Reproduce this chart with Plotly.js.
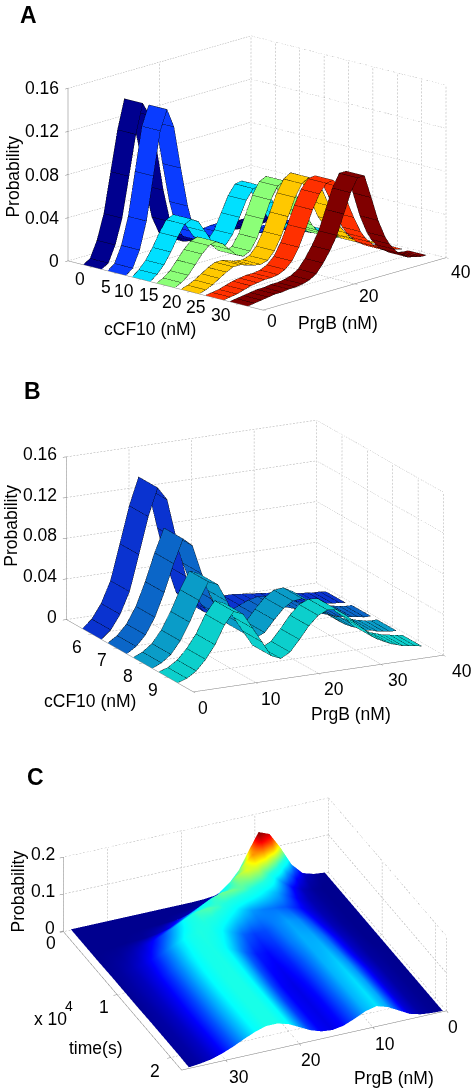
<!DOCTYPE html>
<html><head><meta charset="utf-8">
<script src="https://cdn.plot.ly/plotly-3.0.1.min.js"></script>
<style>html,body{margin:0;padding:0;background:#fff}#g{width:475px;height:1092px}</style>
</head><body><div id="g"></div>
<script>
// Shared PrgB sample rows for panels A and B
const prgbRows=[0,1.5,3,4.5,6,7.5,9,10.5,12,13.5,15,16.5,18,19.5,21,22.5,24,25.5,27,28.5,30,31,32,33,34,35,36,37,38,39];
// Panel A
const aLevels=[0,5,10,15,20,25,30];
const aColors=['#00008f','#0a3cff','#00e0ff','#8cff78','#ffc800','#ff3000','#800000'];
const a0 =[0,.004,.019,.042,.079,.116,.143,.13,.098,.057,.026,.01,.004,.003,.003,.003,.003,.002,.002,.002,.001,.001,.001,.001,0,0,0,0,0,0];
const a5 =[0,.005,.02,.045,.085,.125,.143,.125,.085,.048,.022,.012,.01,.012,.014,.015,.015,.012,.008,.005,.003,.002,.002,.001,.001,0,0,0,0,0];
const a10=[0,.005,.012,.022,.034,.044,.047,.043,.032,.021,.014,.014,.022,.036,.05,.059,.06,.052,.04,.028,.017,.012,.009,.006,.005,.003,.002,.001,0,0];
const a15=[0,.003,.008,.016,.024,.03,.032,.028,.021,.014,.011,.014,.024,.04,.056,.067,.07,.063,.05,.035,.022,.016,.012,.008,.006,.004,.003,.001,0,0];
const a20=[0,.002,.005,.009,.013,.016,.016,.014,.012,.011,.013,.02,.032,.048,.064,.075,.079,.075,.063,.047,.031,.024,.018,.012,.009,.005,.003,.002,.001,0];
const a25=[0,.001,.002,.004,.006,.007,.008,.008,.009,.012,.018,.029,.044,.06,.073,.081,.082,.074,.059,.042,.027,.02,.015,.01,.007,.004,.003,.002,.001,0];
const a30=[0,.001,.002,.003,.004,.004,.005,.005,.006,.008,.012,.02,.03,.042,.06,.078,.09,.09,.068,.045,.028,.02,.014,.009,.006,.003,.002,.001,0,0];
const aSeries=[a0,a5,a10,a15,a20,a25,a30];
const aXTicks=[0,5,10,15,20,25,30];
const aYTicks=[0,20,40];
const aZTicks=[0,.04,.08,.12,.16];
// Panel B
const bLevels=[6,7,8,9];
const bColors=['#0a33d0','#0b66c8','#0a9cc8','#0ccfcc'];
const b6=[0,.008,.022,.043,.078,.114,.141,.128,.088,.05,.022,.012,.009,.01,.011,.012,.012,.011,.01,.009,.008,.007,.006,.005,.004,.003,.003,.002,.002,.001];
const b7=[0,.006,.016,.032,.055,.082,.105,.097,.068,.042,.024,.014,.012,.014,.018,.022,.024,.023,.02,.017,.014,.012,.01,.008,.006,.005,.004,.003,.002,.002];
const b8=[0,.004,.011,.023,.04,.06,.077,.073,.055,.034,.02,.015,.019,.03,.04,.046,.047,.042,.034,.026,.019,.015,.012,.01,.007,.006,.004,.003,.002,.002];
const b9=[0,.003,.009,.019,.032,.05,.062,.058,.043,.028,.013,.009,.014,.025,.037,.046,.05,.049,.042,.033,.025,.018,.014,.011,.008,.006,.004,.003,.002,.001];
const bSeries=[b6,b7,b8,b9];
const bXTicks=[6,7,8,9];
const bYTicks=[0,10,20,30,40];
const bZTicks=[0,.04,.08,.12,.16];
// Panel C
const cPrgB=[.5,2,3.5,5,6.5,8,9.5,11,12.5,14,15.5,17,18.5,20,21.5,23,24.5,26,27.5,29,30.5,32,33.5,35];
const cTime=[0,.05,.1,.2,.35,.5,.75,1,1.25,1.5,1.75,2,2.2];
const cT00 =[0,.003,.012,.042,.094,.138,.15,.1,.047,.015,.004,.001,0,0,0,0,0,0,0,0,0,0,0,0];
const cT005=[0,.002,.008,.03,.07,.118,.137,.108,.065,.03,.012,.004,.001,0,0,0,0,0,0,0,0,0,0,0];
const cT01 =[0,.001,.005,.018,.046,.085,.111,.113,.088,.054,.025,.01,.003,.001,0,0,0,0,0,0,0,0,0,0];
const cT02 =[0,0,.002,.008,.022,.045,.07,.09,.095,.085,.062,.038,.02,.009,.004,.001,0,0,0,0,0,0,0,0];
const cT035=[0,0,.002,.006,.015,.03,.045,.055,.065,.075,.08,.08,.07,.055,.04,.025,.012,.006,.002,.001,0,0,0,0];
const cT05 =[0,0,.002,.006,.014,.024,.032,.036,.038,.042,.052,.063,.072,.076,.073,.062,.046,.031,.019,.01,.005,.002,.001,0];
const cT075=[0,0,.002,.007,.017,.03,.04,.043,.038,.03,.028,.034,.046,.058,.066,.068,.062,.05,.036,.023,.013,.007,.003,.001];
const cT10 =[0,0,.003,.009,.021,.035,.044,.045,.037,.026,.02,.023,.034,.048,.06,.066,.064,.054,.04,.027,.016,.008,.004,.001];
const cT125=[0,.001,.003,.01,.023,.038,.047,.045,.034,.023,.017,.02,.031,.046,.059,.066,.065,.056,.042,.028,.017,.009,.004,.001];
const cT15 =[0,.001,.004,.012,.026,.041,.05,.046,.033,.021,.015,.018,.029,.044,.058,.066,.066,.057,.043,.029,.018,.009,.004,.002];
const cT175=[0,.001,.004,.012,.027,.043,.052,.046,.033,.02,.015,.018,.028,.043,.058,.066,.066,.057,.044,.03,.018,.009,.004,.002];
const cT20 =[0,.001,.004,.012,.028,.044,.053,.046,.032,.02,.015,.018,.028,.043,.058,.066,.066,.057,.044,.03,.018,.009,.004,.002];
const cT22 =[0,.001,.004,.012,.028,.044,.053,.046,.032,.02,.015,.018,.028,.043,.058,.066,.066,.057,.044,.03,.018,.009,.004,.001];
const cRows=[cT00,cT005,cT01,cT02,cT035,cT05,cT075,cT10,cT125,cT15,cT175,cT20,cT22];
const cPrgBTicks=[0,10,20,30];
const cTimeTicks=[0,1,2];
const cZTicks=[0,.1,.2];

const FONT='Arial, "Liberation Sans", sans-serif';
const TS=17.5;
const rad=Math.PI/180;
function eye(d,hx,hy,el){const c=Math.cos(el),s=Math.sin(el);return {x:d*hx*c,y:d*hy*c,z:d*s};}
const eyeA=eye(2,Math.cos(46.8*rad),-Math.sin(46.8*rad),15.6*rad), asA={x:1.573,y:1.573,z:1.054};
const eyeB=eye(2,Math.cos(26.9*rad),-Math.sin(26.9*rad),16.8*rad), asB={x:1.65,y:1.65,z:1.0};
const eyeC=eye(2,Math.cos(66.4*rad),Math.sin(66.4*rad),30.8*rad), asC={x:1.83,y:1.867,z:.549};

function ribbonTraces(levels,series,colors,hw,scene,e,as,xSpan,ySpan,zSpan){
  const out=[];
  const eps=.0075; // pushes mesh lines a hair toward the viewer so the ribbon does not hide them
  const ox=e.x*eps/as.x*xSpan, oy=e.y*eps/as.y*ySpan, oz=e.z*eps/as.z*zSpan;
  levels.forEach((c,i)=>{
    const l=c-hw,r=c+hw,v=series[i];
    out.push({type:'surface',scene,x:[l,r],y:prgbRows,z:v.map(a=>[a,a]),
      colorscale:[[0,colors[i]],[1,colors[i]]],showscale:false,hoverinfo:'skip',
      lighting:{ambient:1,diffuse:0,specular:0,fresnel:0,roughness:1}});
    const lx=[],ly=[],lz=[];
    const add=(x,y,z)=>{lx.push(x===null?null:x+ox);ly.push(y===null?null:y+oy);lz.push(z===null?null:z+oz);};
    v.forEach((a,k)=>{add(l,prgbRows[k],a);add(r,prgbRows[k],a);add(null,null,null);});
    [l,r].forEach(ed=>{v.forEach((a,k)=>add(ed,prgbRows[k],a));add(null,null,null);});
    out.push({type:'scatter3d',scene,mode:'lines',x:lx,y:ly,z:lz,line:{color:'#000',width:1},opacity:.75,hoverinfo:'skip',showlegend:false});
  });
  return out;
}
// Dotted box grid on the two back walls and the floor; dots are short line pieces between tick planes
function gridTrace(scene,xs,ys,zs,wallX,wallY,nx,ny,nz){
  const X=[],Y=[],Z=[];
  const seg=(a,b,n)=>{for(let k=0;k<n;k++){const t0=k/n,t1=(k+.55)/n;
    X.push(a[0]+(b[0]-a[0])*t0,a[0]+(b[0]-a[0])*t1,null);
    Y.push(a[1]+(b[1]-a[1])*t0,a[1]+(b[1]-a[1])*t1,null);
    Z.push(a[2]+(b[2]-a[2])*t0,a[2]+(b[2]-a[2])*t1,null);}};
  const x0=xs[0],x1=xs[xs.length-1],y0=ys[0],y1=ys[ys.length-1],z0=zs[0],z1=zs[zs.length-1];
  xs.forEach(x=>{seg([x,y0,z0],[x,y1,z0],ny);seg([x,wallY,z0],[x,wallY,z1],nz);});
  ys.forEach(y=>{seg([x0,y,z0],[x1,y,z0],nx);seg([wallX,y,z0],[wallX,y,z1],nz);});
  zs.forEach(z=>{seg([x0,wallY,z],[x1,wallY,z],nx);seg([wallX,y0,z],[wallX,y1,z],ny);});
  return {type:'scatter3d',scene,mode:'lines',x:X,y:Y,z:Z,line:{color:'#a8a8a8',width:1},hoverinfo:'skip',showlegend:false};
}
function ann(x,y,z,text,dx,dy,extra){
  return Object.assign({x,y,z,text,showarrow:false,xshift:dx,yshift:-dy,xanchor:'center',yanchor:'middle',font:{family:FONT,size:TS,color:'#000'}},extra||{});
}
function axis(range,tickvals){
  return {range,tickvals,tickmode:'array',showticklabels:false,title:{text:''},showgrid:false,
    zeroline:false,showline:true,linecolor:'#777',linewidth:1,ticks:'outside',ticklen:4,tickcolor:'#777',tickwidth:1,showbackground:false,showspikes:false,autorange:false};
}
const RIGHT={xanchor:'right'};
const traces=[
  gridTrace('scene',[-5,0,5,10,15,20,25,30,35],aYTicks,aZTicks,-5,40,70,70,48),
  gridTrace('scene2',[5,6,7,8,9,10],bYTicks,bZTicks,5,40,74,74,46),
  gridTrace('scene3',[0,10,20,30,36],[0,1,2,2.2],[-.002,.1,.2],0,0,74,50,22),
  ...ribbonTraces(aLevels,aSeries,aColors,1.875,'scene',eyeA,asA,40,40,.16),
  ...ribbonTraces(bLevels,bSeries,bColors,.375,'scene2',eyeB,asB,5,40,.16),
  {type:'surface',scene:'scene3',x:cPrgB,y:cTime,z:cRows,cmin:0,cmax:.15,showscale:false,hoverinfo:'skip',
   colorscale:[[0,'#00008f'],[.125,'#0000ff'],[.38,'#00ffff'],[.46,'#20ffe0'],[.66,'#ffff00'],[.88,'#ff0000'],[1,'#800000']],
   lighting:{ambient:1,diffuse:0,specular:0,fresnel:0,roughness:1}}];
function dom(x0,x1,y0,y1){return {x:[x0/475,x1/475],y:[1-y1/1092,1-y0/1092]};}
const cam=e=>({projection:{type:'orthographic'},up:{x:0,y:0,z:1},center:{x:0,y:0,z:0},eye:e});
const panel=(t,x,y)=>({xref:'paper',yref:'paper',x:x/475,y:1-y/1092,xanchor:'center',yanchor:'middle',text:'<b>'+t+'</b>',showarrow:false,font:{family:FONT,size:23,color:'#000'}});
const aXOff=[[-12,12],[-11,14],[-17,12],[-17,9],[-18,10],[-19,9],[-18,11]];
const aYOff=[[9,11],[15,12],[15,14]];
const bXOff=[[-15,13],[-15,12],[-15,13],[-15,13]];
const bYOff=[[10,16],[15,16],[16,15],[17,16],[18,16]];
const cPOff=[[6,17],[12,17],[12,17],[13,18]];
const cTOff=[[-12,12],[-13,13],[-16,14]];
const layout={width:475,height:1092,margin:{l:0,r:0,t:0,b:0},paper_bgcolor:'#fff',showlegend:false,hovermode:false,
 annotations:[panel('A',28,15),panel('B',32,391),panel('C',35,777)],
 scene:{domain:dom(39,475,3,343),xaxis:axis([-5,35],aXTicks),yaxis:axis([0,40],aYTicks),zaxis:axis([0,.16],aZTicks),
  aspectmode:'manual',aspectratio:asA,camera:cam(eyeA),
  annotations:[...aXTicks.map((v,i)=>ann(v,0,0,String(v),aXOff[i][0],aXOff[i][1])),...aYTicks.map((v,i)=>ann(35,v,0,String(v),aYOff[i][0],aYOff[i][1])),
   ...aZTicks.map(v=>ann(-5,0,v,String(v),-7,0,RIGHT)),
   ann(-5,0,.08,'Probability',-55,2,{textangle:-90}),ann(15,0,0,'cCF10 (nM)',-15,43),ann(35,18,0,'PrgB (nM)',-7,36)]},
 scene2:{domain:dom(35,475,386,726),xaxis:axis([5,10],bXTicks),yaxis:axis([0,40],bYTicks),zaxis:axis([0,.16],bZTicks),
  aspectmode:'manual',aspectratio:asB,camera:cam(eyeB),
  annotations:[...bXTicks.map((v,i)=>ann(v,0,0,String(v),bXOff[i][0],bXOff[i][1])),...bYTicks.map((v,i)=>ann(10,v,0,String(v),bYOff[i][0],bYOff[i][1])),
   ...bZTicks.map(v=>ann(5,0,v,String(v),-7,-3,RIGHT)),
   ann(5,0,.08,'Probability',-55,-13,{textangle:-90}),ann(7.5,0,0,'cCF10 (nM)',-40,45),ann(10,20,0,'PrgB (nM)',33,40)]},
 scene3:{domain:dom(35,475,776,1092),xaxis:axis([0,36],cPrgBTicks),yaxis:axis([0,2.2],cTimeTicks),zaxis:axis([-.002,.2],cZTicks),
  aspectmode:'manual',aspectratio:asC,camera:cam(eyeC),
  annotations:[...cPrgBTicks.map((v,i)=>ann(v,2.2,0,String(v),cPOff[i][0],cPOff[i][1])),...cTimeTicks.map((v,i)=>ann(36,v,0,String(v),cTOff[i][0],cTOff[i][1])),
   ...cZTicks.map(v=>ann(36,0,v,String(v),-6,-3,RIGHT)),
   ann(36,0,.1,'Probability',-45,-3,{textangle:-90}),ann(36,1,0,'x 10',-67,25),ann(36,1,0,'4',-48,12,{font:{family:FONT,size:14,color:'#000'}}),ann(36,1.6,0,'time(s)',-54,16),ann(10,2.2,0,'PrgB (nM)',21,51)]}
};
Plotly.newPlot('g',traces,layout,{displayModeBar:false,staticPlot:false});
</script></body></html>
